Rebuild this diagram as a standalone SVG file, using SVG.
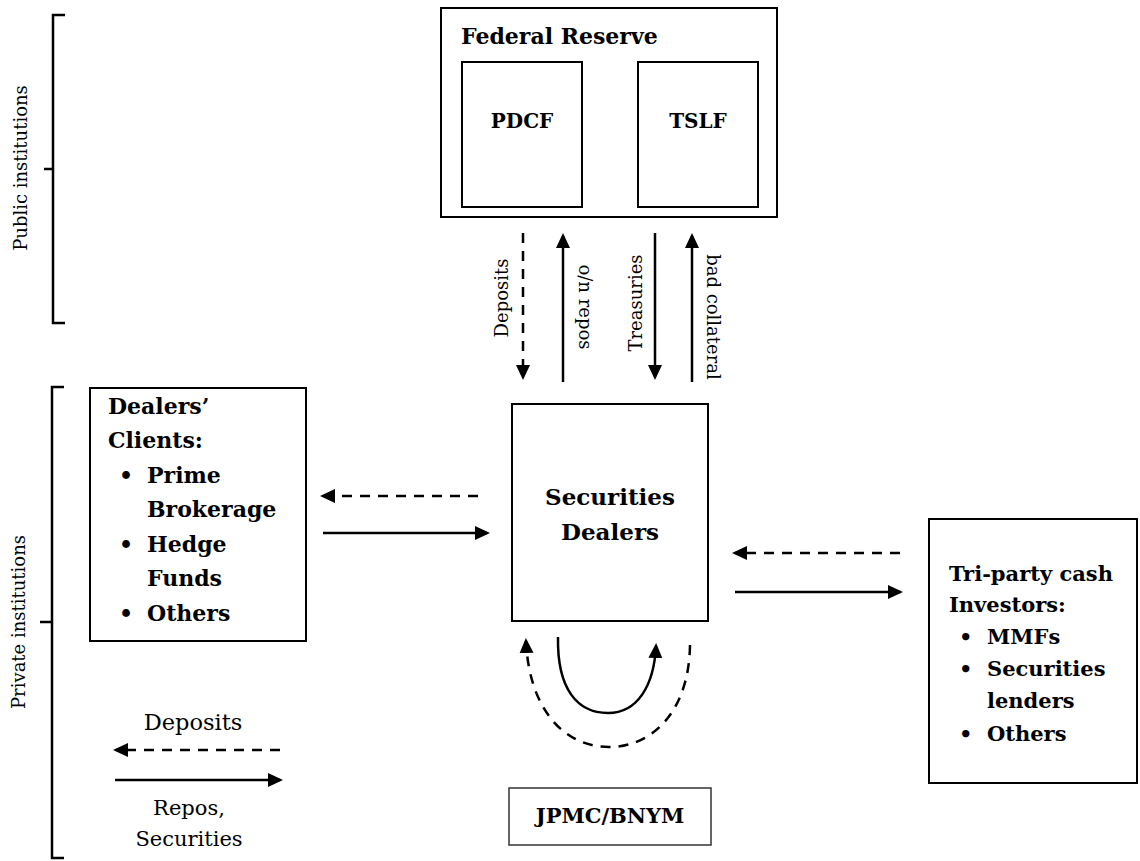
<svg xmlns="http://www.w3.org/2000/svg" width="1140" height="861" viewBox="0 0 1140 861">
<style>
.box{fill:#fff;stroke:#000;stroke-width:2}
.b{font-family:"DejaVu Serif","Liberation Serif",serif;font-weight:bold;fill:#000}
.r{font-family:"DejaVu Serif","Liberation Serif",serif;fill:#000}
.ln{fill:none;stroke:#000;stroke-width:2.5}
.ds{stroke-dasharray:10 8}
.br{fill:none;stroke:#000;stroke-width:2.5}
</style>
<defs>
<marker id="ah" markerUnits="userSpaceOnUse" markerWidth="15" markerHeight="14" refX="12" refY="7" orient="auto">
<path d="M0,0 L15,7 L0,14 z" fill="#000"/>
</marker>
</defs>
<rect width="1140" height="861" fill="#fff"/>

<g id="public-bracket">
<path class="br" d="M65,15 L53,15 L53,323 L65,323 M53,169 L44,169"/>
<text class="r" font-size="18" text-anchor="middle" dominant-baseline="central" transform="translate(20,168) rotate(-90)">Public institutions</text>
</g>
<g id="private-bracket">
<path class="br" d="M64,387 L52,387 L52,858 L64,858 M52,622 L40,622"/>
<text class="r" font-size="18" text-anchor="middle" dominant-baseline="central" transform="translate(18,622) rotate(-90)">Private institutions</text>
</g>

<g id="federal-reserve">
<rect class="box" x="441" y="8" width="336" height="209"/>
<text class="b" font-size="22" x="461" y="44">Federal Reserve</text>
</g>
<g id="pdcf">
<rect class="box" x="462" y="62" width="120" height="145"/>
<text class="b" font-size="20" x="522" y="128" text-anchor="middle">PDCF</text>
</g>
<g id="tslf">
<rect class="box" x="638" y="62" width="120" height="145"/>
<text class="b" font-size="20" x="698" y="128" text-anchor="middle">TSLF</text>
</g>

<g id="dealers-clients">
<rect class="box" x="90" y="388" width="216" height="253"/>
<text class="b" font-size="22">
<tspan x="108" y="414">Dealers’</tspan>
<tspan x="108" y="448">Clients:</tspan>
<tspan x="119" y="483">•</tspan><tspan x="147" y="483">Prime</tspan>
<tspan x="147" y="517">Brokerage</tspan>
<tspan x="119" y="552">•</tspan><tspan x="147" y="552">Hedge</tspan>
<tspan x="147" y="586">Funds</tspan>
<tspan x="119" y="621">•</tspan><tspan x="147" y="621">Others</tspan>
</text>
</g>

<g id="securities-dealers">
<rect class="box" x="512" y="404" width="196" height="217"/>
<text class="b" font-size="23" text-anchor="middle"><tspan x="610" y="505">Securities</tspan><tspan x="610" y="540">Dealers</tspan></text>
</g>

<g id="tri-party">
<rect class="box" x="929" y="519" width="208" height="264"/>
<text class="b" font-size="21">
<tspan x="949" y="581">Tri-party cash</tspan>
<tspan x="949" y="612">Investors:</tspan>
<tspan x="959" y="644">•</tspan><tspan x="987" y="644">MMFs</tspan>
<tspan x="959" y="676">•</tspan><tspan x="987" y="676">Securities</tspan>
<tspan x="987" y="708">lenders</tspan>
<tspan x="959" y="741">•</tspan><tspan x="987" y="741">Others</tspan>
</text>
</g>

<g id="jpmc-bnym">
<rect x="509" y="788" width="202" height="57" fill="#fff" stroke="#333" stroke-width="1.5"/>
<text class="b" font-size="21" x="610" y="823" text-anchor="middle">JPMC/BNYM</text>
</g>

<g id="connectors">
<line class="ln ds" x1="523" y1="233" x2="523" y2="377" marker-end="url(#ah)"/>
<line class="ln" x1="563" y1="382" x2="563" y2="236" marker-end="url(#ah)"/>
<line class="ln" x1="655" y1="233" x2="655" y2="377" marker-end="url(#ah)"/>
<line class="ln" x1="692" y1="382" x2="692" y2="236" marker-end="url(#ah)"/>
<line class="ln ds" x1="478" y1="496" x2="323" y2="496" marker-end="url(#ah)"/>
<line class="ln" x1="323" y1="533" x2="487" y2="533" marker-end="url(#ah)"/>
<line class="ln ds" x1="900" y1="553" x2="735" y2="553" marker-end="url(#ah)"/>
<line class="ln" x1="735" y1="592" x2="900" y2="592" marker-end="url(#ah)"/>
<path class="ln" d="M558,637 C557,690 578,713 608,713 C638,713 654,685 656,646" marker-end="url(#ah)"/>
<path class="ln ds" d="M690,645 C689,712 652,747 609,747 C563,747 529,708 526,641" marker-end="url(#ah)"/>
<line class="ln ds" x1="280" y1="750" x2="116" y2="750" marker-end="url(#ah)"/>
<line class="ln" x1="115" y1="780" x2="280" y2="780" marker-end="url(#ah)"/>
</g>

<g id="labels">
<text class="r" font-size="18" text-anchor="middle" dominant-baseline="central" transform="translate(501,298) rotate(-90)">Deposits</text>
<text class="r" font-size="18" text-anchor="middle" dominant-baseline="central" transform="translate(585,307) rotate(90)">o/n repos</text>
<text class="r" font-size="18" text-anchor="middle" dominant-baseline="central" transform="translate(635,303) rotate(-90)">Treasuries</text>
<text class="r" font-size="18" text-anchor="middle" dominant-baseline="central" transform="translate(713,317) rotate(90)">bad collateral</text>
<text class="r" font-size="22.5" x="193" y="730" text-anchor="middle">Deposits</text>
<text class="r" font-size="21" text-anchor="middle"><tspan x="189" y="815">Repos,</tspan><tspan x="189" y="846">Securities</tspan></text>
</g>
</svg>
